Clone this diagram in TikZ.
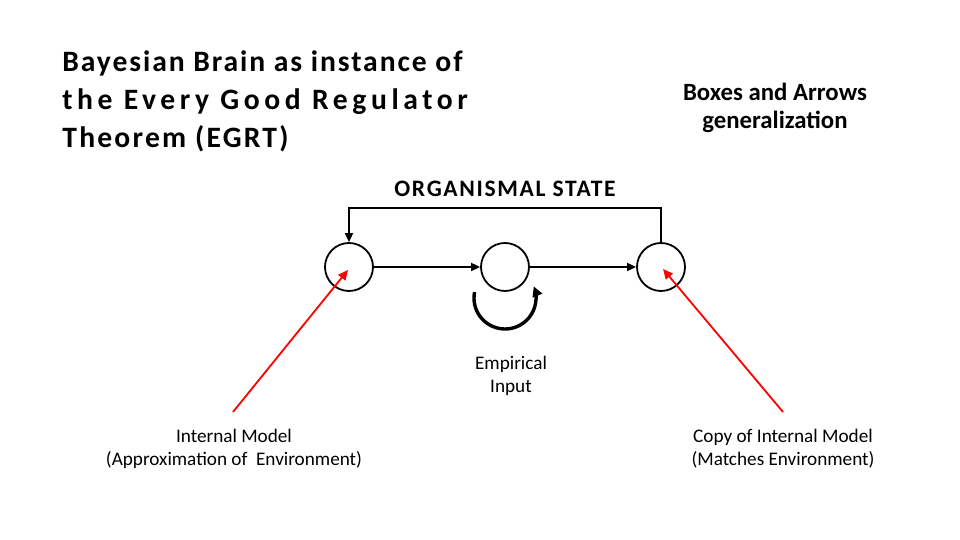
\documentclass[tikz,border=0pt]{standalone}
\usepackage{fontspec}
\setmainfont{Carlito}
\usetikzlibrary{arrows.meta}

\begin{document}
\begin{tikzpicture}[x=0.5pt,y=0.5pt,
  state/.style={draw,circle,line width=0.9pt,minimum size=24pt,inner sep=0pt},
  flow/.style={line width=0.9pt,-{Triangle[length=4.5pt,width=4pt]}},
  pointer/.style={draw=red,line width=0.9pt,-{Triangle[length=5pt,width=4.5pt]}},
  heading/.style={font=\bfseries\fontsize{14.8}{18}\selectfont,anchor=base west,inner sep=0pt},
  note/.style={font=\fontsize{9.6}{11.5}\selectfont,align=center}]
\useasboundingbox (0,0) rectangle (960,540);

% title and subtitle
\node[heading] (t0) at (62,468) {\addfontfeature{LetterSpace=6.5}Bayesian Brain as instance of};
\node[heading] (t1) at (62,430) {\addfontfeature{LetterSpace=15.5}the Every Good Regulator};
\node[heading] (t2) at (62,392) {\addfontfeature{LetterSpace=7.5}Theorem (EGRT)};
\node[font=\bfseries\fontsize{12.4}{14}\selectfont,align=center] (sub) at (775,432) {Boxes and Arrows\\generalization};

% states
\node[state] (c0) at (349,273) {};
\node[state] (c1) at (505,273) {};
\node[state] (c2) at (661,273) {};
\coordinate (lc) at (505,242);

\draw[flow] (c0) -- (c1);
\draw[flow] (c1) -- (c2);
\draw[flow] (c2.north) |- (661,332) -| (c0.north);
\node[font=\bfseries\fontsize{11.8}{14}\selectfont,anchor=base] (org) at (505,343) {\addfontfeature{LetterSpace=7}ORGANISMAL STATE};

% self loop
\draw[line width=1.7pt,-{Triangle[length=5pt,width=5pt]}] ([shift={(169:31)}]lc) arc[start angle=169,end angle=382,radius=31];

% labels
\node[note] (emp) at (511,164) {Empirical\\Input};
\node[note] (im) at (234,91) {Internal Model\\(Approximation of\ \ Environment)};
\node[note] (cim) at (783,91) {Copy of Internal Model\\(Matches Environment)};

\coordinate (p0) at (233,128);
\coordinate (p1) at (783,128);
\draw[pointer] (p0) -- ([shift={(-1,-3)}]c0.center);
\draw[pointer] (p1) -- ([shift={(2,-2)}]c2.center);

\end{tikzpicture}
\end{document}
